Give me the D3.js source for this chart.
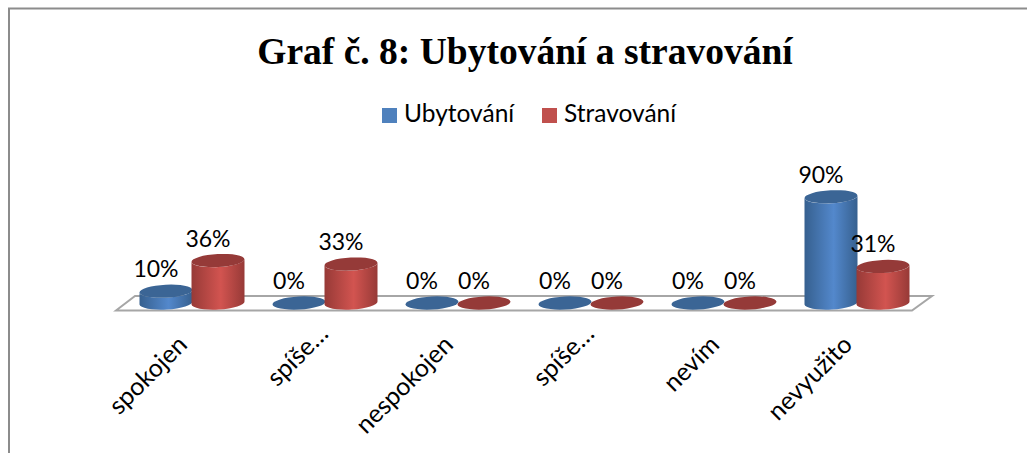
<!DOCTYPE html>
<html>
<head>
<meta charset="utf-8">
<script src="https://cdn.jsdelivr.net/npm/d3@7"></script>
<style>
  body { margin: 0; background: #fff; }
  svg { display: block; }
  text { fill: #000; font-family: Lato, "Open Sans", sans-serif; }
</style>
</head>
<body>
<div id="chart"></div>
<script>
var categories = ["spokojen", "spíše spokojen", "nespokojen", "spíše nespokojen", "nevím", "nevyužito"];
var tickLabels = ["spokojen", "spíše…", "nespokojen", "spíše…", "nevím", "nevyužito"];
var seriesNames = ["Ubytování", "Stravování"];
var ubytovani = [10, 0, 0, 0, 0, 90];
var stravovani = [36, 33, 0, 0, 0, 31];

var width = 1027, height = 453;

var svg = d3.select("#chart").append("svg")
  .attr("width", width)
  .attr("height", height);

// frame, only top and left are visible in the picture
svg.append("path")
  .attr("d", "M9,453V8.5H1027")
  .attr("fill", "none")
  .attr("stroke", "#8c8c8c")
  .attr("stroke-width", 2);

svg.append("text")
  .attr("x", 525)
  .attr("y", 64)
  .attr("text-anchor", "middle")
  .style("font-family", '"Liberation Serif", serif')
  .style("font-weight", "bold")
  .style("font-size", "37.5px")
  .text("Graf č. 8: Ubytování a stravování");

var xScale = d3.scaleBand()
  .domain(categories)
  .range([126, 924]);

var seriesScale = d3.scaleBand()
  .domain(seriesNames)
  .range([14, 118]);

var yScale = d3.scaleLinear()
  .domain([0, 100])
  .range([303, 185]);

// gradients
var defs = svg.append("defs");
var colors = [
  { edge: "#36608f", mid: "#5388cc", top: "#3b6595", legend: "#4f81bd" },
  { edge: "#973a37", mid: "#d25450", top: "#953a38", legend: "#c0504d" }
];
colors.forEach(function (c, i) {
  var g = defs.append("linearGradient")
    .attr("id", "body" + i);
  g.append("stop").attr("offset", "0%").attr("stop-color", c.edge);
  g.append("stop").attr("offset", "55%").attr("stop-color", c.mid);
  g.append("stop").attr("offset", "100%").attr("stop-color", c.edge);
});

// floor of the 3d chart
var floor = svg.append("g").attr("fill", "none").attr("stroke", "#a6a6a6").attr("stroke-width", 2);
floor.append("path").attr("d", "M116,310.5L135,296H932L912,310.5Z");

// legend
var legend = svg.append("g");
var legendX = [382, 542];
seriesNames.forEach(function (name, i) {
  legend.append("rect")
    .attr("x", legendX[i])
    .attr("y", 108)
    .attr("width", 15)
    .attr("height", 15)
    .attr("fill", colors[i].legend);
  legend.append("text")
    .attr("x", legendX[i] + 22)
    .attr("y", 122)
    .style("font-size", "24.5px")
    .text(name);
});

// axis labels
var xAxis = d3.axisBottom(xScale)
  .tickSize(0)
  .tickFormat(function (d, i) { return tickLabels[i]; });

var axisG = svg.append("g")
  .attr("transform", "translate(0,320)")
  .call(xAxis);
axisG.select(".domain").remove();
axisG.selectAll("text")
  .attr("y", 0)
  .attr("dy", "0.35em")
  .attr("x", 0)
  .attr("text-anchor", "end")
  .attr("transform", function (d, i) {
    // the shortened labels sit a bit higher in the original
    var short = tickLabels[i].slice(-1) === "…";
    return short ? "translate(-2,9) rotate(-45)" : "translate(-10,20) rotate(-45)";
  })
  .style("font-family", 'Lato, "Open Sans", sans-serif')
  .style("font-size", "25px");

// cylinders
var rx = 26.5, ry = 6.5, tilt = 1.5;

function cylinderBody(cx, yTop, yBase) {
  return "M" + (cx - rx) + "," + (yTop + tilt) +
    "L" + (cx - rx) + "," + (yBase + tilt) +
    "A" + rx + "," + ry + " -3 0 0 " + (cx + rx) + "," + (yBase - tilt) +
    "L" + (cx + rx) + "," + (yTop - tilt) +
    "A" + rx + "," + ry + " -3 0 1 " + (cx - rx) + "," + (yTop + tilt) + "Z";
}

var allSeries = [ubytovani, stravovani];
var labels = [];

categories.forEach(function (cat, ci) {
  allSeries.forEach(function (values, si) {
    var v = values[ci];
    var cx = xScale(cat) + seriesScale(seriesNames[si]) + seriesScale.bandwidth() / 2;
    var yTop = yScale(v);
    var yBase = yScale(0);
    if (v > 0) {
      svg.append("path")
        .attr("d", cylinderBody(cx, yTop, yBase))
        .attr("fill", "url(#body" + si + ")");
    }
    svg.append("ellipse")
      .attr("cx", cx)
      .attr("cy", yTop)
      .attr("rx", rx)
      .attr("ry", ry)
      .attr("transform", "rotate(-3," + cx + "," + yTop + ")")
      .attr("fill", colors[si].top);
    labels.push({ x: cx - 10, y: yTop - 14, v: v });
  });
});

svg.selectAll(".val")
  .data(labels).enter()
  .append("text")
  .attr("class", "val")
  .attr("x", function (d) { return d.x; })
  .attr("y", function (d) { return d.y; })
  .attr("text-anchor", "middle")
  .style("font-size", "23px")
  .text(function (d) { return d.v + "%"; });
</script>
</body>
</html>
